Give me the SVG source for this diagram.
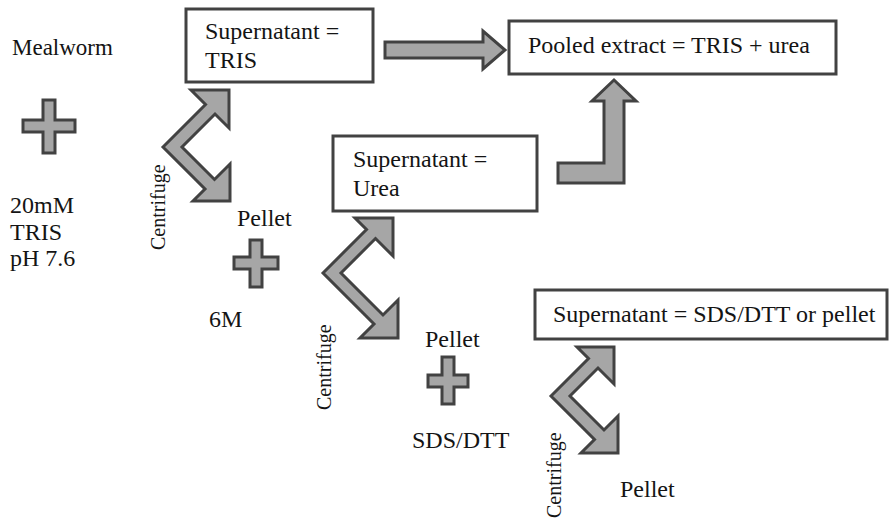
<svg xmlns="http://www.w3.org/2000/svg" width="890" height="519" viewBox="0 0 890 519">
<style>
.box{fill:#ffffff;stroke:#424242;stroke-width:3}
.shape{fill:#a6a6a6;stroke:#424242;stroke-width:3;stroke-linejoin:miter}
.t{font-family:"Liberation Serif","Times New Roman",Times,Tinos,"Nimbus Roman","FreeSerif","Noto Serif","DejaVu Serif",serif;font-size:24px;fill:#141414}
.c{font-family:"Liberation Serif","Times New Roman",Times,Tinos,"Nimbus Roman","FreeSerif","Noto Serif","DejaVu Serif",serif;font-size:20px;fill:#141414}
</style>
<rect width="890" height="519" fill="#ffffff"/>
<g id="connectors">
<polygon class="shape" points="385,42 483,42 483,31 505,50 483,69 483,58 385,58"/>
<polygon class="shape" points="558,163 604,163 604,101 592,101 614,80 636,101 624,101 624,183 558,183"/>
<polygon class="shape" points="163,147 205.5,104.5 191,90 229,90 229,128 215,114 182,147 214.5,179.5 230,164 230,201 193,201 205,189"/>
<polygon class="shape" points="323,273 366.5,229.5 355,218 393,218 393,256 375.5,238.5 341,273 383,315 398,300 398,338 360,338 374,324"/>
<polygon class="shape" points="551,396 588.5,358.5 577,347 614,347 614,384 598,368 570,396 604,430 618,416 618,453 581,453 594.5,439.5"/>
</g>
<g id="mealworm"><text class="t" x="12" y="55" style="font-size:23px">Mealworm</text></g>
<g id="plus1"><path class="shape" d="M43,100 H55 V120 H75 V132 H55 V153 H43 V132 H23 V120 H43 Z"/></g>
<g id="tris-buffer"><text class="t" x="10" y="213">20mM</text><text class="t" x="10" y="240">TRIS</text><text class="t" x="10" y="266">pH 7.6</text></g>
<g id="centrifuge1"><text class="c" transform="translate(165,250) rotate(-90)">Centrifuge</text></g>
<g id="supernatant-tris"><rect class="box" x="186" y="9" width="187" height="73"/><text class="t" x="205" y="39">Supernatant =</text><text class="t" x="205" y="68">TRIS</text></g>
<g id="pooled"><rect class="box" x="509" y="21" width="327" height="53"/><text class="t" x="528" y="53">Pooled extract = TRIS + urea</text></g>
<g id="pellet1"><text class="t" x="237" y="226">Pellet</text></g>
<g id="plus2"><path class="shape" d="M250,240 H262 V257 H278 V269 H262 V287 H250 V269 H234 V257 H250 Z"/></g>
<g id="sixm"><text class="t" x="209" y="327">6M</text></g>
<g id="supernatant-urea"><rect class="box" x="333" y="136" width="204" height="75"/><text class="t" x="353" y="167">Supernatant =</text><text class="t" x="353" y="196">Urea</text></g>
<g id="centrifuge2"><text class="c" transform="translate(331,410) rotate(-90)">Centrifuge</text></g>
<g id="pellet2"><text class="t" x="425" y="347">Pellet</text></g>
<g id="plus3"><path class="shape" d="M442,357 H454 V375 H468 V387 H454 V404 H442 V387 H428 V375 H442 Z"/></g>
<g id="sdsdtt"><text class="t" x="412" y="448">SDS/DTT</text></g>
<g id="supernatant-sds"><rect class="box" x="535" y="290" width="352" height="49"/><text class="t" x="553" y="322">Supernatant = SDS/DTT or pellet</text></g>
<g id="centrifuge3"><text class="c" transform="translate(561,518) rotate(-90)">Centrifuge</text></g>
<g id="pellet3"><text class="t" x="620" y="497">Pellet</text></g>
</svg>
